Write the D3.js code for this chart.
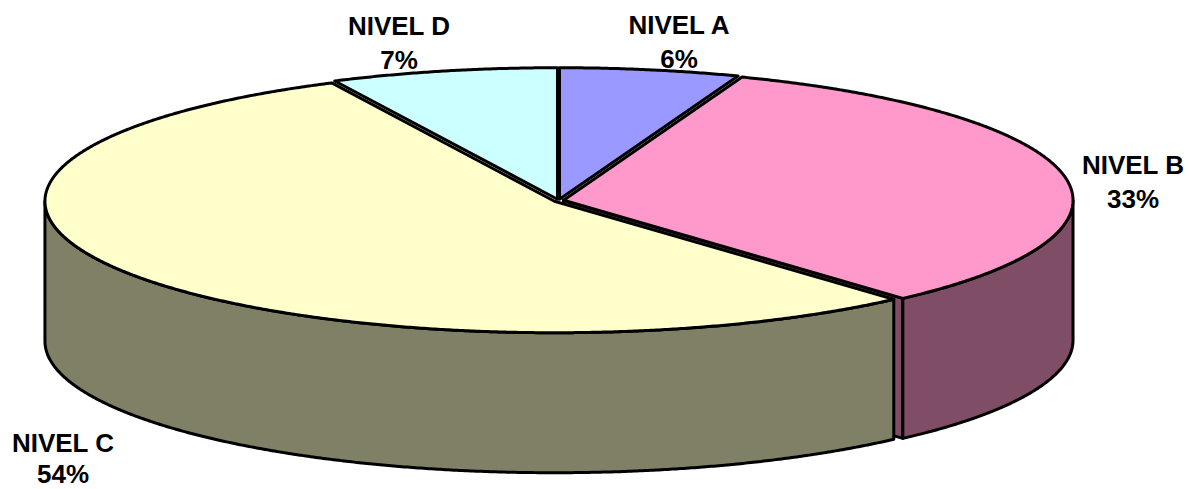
<!DOCTYPE html>
<html>
<head>
<meta charset="utf-8">
<script src="https://cdn.jsdelivr.net/npm/d3@7"></script>
<style>
  html, body { margin: 0; background: #fff; }
  svg { display: block; }
  text { font-family: "Liberation Sans", Arial, sans-serif; font-weight: bold; font-size: 26px; fill: #000; }
</style>
</head>
<body>
<script>
const categories = ["NIVEL A", "NIVEL B", "NIVEL C", "NIVEL D"];
const values = [5.7, 32.7, 54.4, 7.2];
const topColors = ["#9999ff", "#ff99cc", "#ffffcc", "#ccffff"];
const sideColors = ["#4d4d80", "#804d66", "#808066", "#668080"];

const size = {width: 1189, height: 489};
const center = {x: 558.6, y: 200.5};
const radius = {x: 509.5, y: 131.5};
const depth = 140;
const explode = 5;

// name and percent anchors, [x, baseline]
const labelPos = [
    {name: [679, 34], pct: [679, 68]},
    {name: [1133, 174], pct: [1133, 208]},
    {name: [63, 452], pct: [63, 483]},
    {name: [399, 35], pct: [399, 69]}
];

let svg = d3.select("body").append("svg")
    .attr("width", size.width)
    .attr("height", size.height);

let x = d3.scaleLinear().domain([-1, 1]).range([center.x - radius.x, center.x + radius.x]);
let y = d3.scaleLinear().domain([-1, 1]).range([center.y - radius.y, center.y + radius.y]);

let slices = d3.pie().sort(null).value(d => d)(values);

// a point of the tilted disc: angle from twelve o'clock, clockwise
let rim = (a, r, d) => {
    let mid = (d.startAngle + d.endAngle) / 2;
    let ox = explode / radius.x * Math.sin(mid);
    let oy = -explode / radius.x * Math.cos(mid);
    return [x(r * Math.sin(a) + ox), y(-r * Math.cos(a) + oy)];
};

let angles = (a0, a1) => {
    let n = Math.max(2, Math.ceil((a1 - a0) * 180));
    return d3.range(n + 1).map(i => a0 + (a1 - a0) * i / n);
};

let line = d3.line();

let topPath = d => {
    let pts = angles(d.startAngle, d.endAngle).map(a => rim(a, 1, d));
    return line([rim(0, 0, d), ...pts]) + "Z";
};

let wallPath = d => {
    let a0 = Math.max(d.startAngle, Math.PI / 2);
    let a1 = Math.min(d.endAngle, Math.PI * 1.5);
    if (a1 <= a0) return null;
    let upper = angles(a0, a1).map(a => rim(a, 1, d));
    let lower = upper.map(p => [p[0], p[1] + depth]).reverse();
    return line([...upper, ...lower]) + "Z";
};

// the cut face that shows when a slice ends in the front right quarter
let cutPath = d => {
    if (d.endAngle <= Math.PI / 2 || d.endAngle >= Math.PI) return null;
    let p = rim(d.endAngle, 1, d), c = rim(0, 0, d);
    return line([p, c, [c[0], c[1] + depth], [p[0], p[1] + depth]]) + "Z";
};

// painter's order, back slices first
let order = [0, 3, 1, 2];

let groups = svg.selectAll("g.slice")
    .data(order.map(i => slices[i]))
    .join("g")
    .attr("class", "slice")
    .attr("stroke", "#000")
    .attr("stroke-width", 3)
    .attr("stroke-linejoin", "round");

groups.filter(d => cutPath(d)).append("path")
    .attr("d", cutPath)
    .attr("fill", d => sideColors[d.index]);

groups.filter(d => wallPath(d)).append("path")
    .attr("d", wallPath)
    .attr("fill", d => sideColors[d.index]);

groups.append("path")
    .attr("d", topPath)
    .attr("fill", d => topColors[d.index]);

let labels = svg.selectAll("g.label")
    .data(slices)
    .join("g")
    .attr("class", "label")
    .attr("text-anchor", "middle");

labels.append("text")
    .attr("x", d => labelPos[d.index].name[0])
    .attr("y", d => labelPos[d.index].name[1])
    .text(d => categories[d.index]);

labels.append("text")
    .attr("x", d => labelPos[d.index].pct[0])
    .attr("y", d => labelPos[d.index].pct[1])
    .text(d => Math.round(d.value) + "%");
</script>
</body>
</html>
